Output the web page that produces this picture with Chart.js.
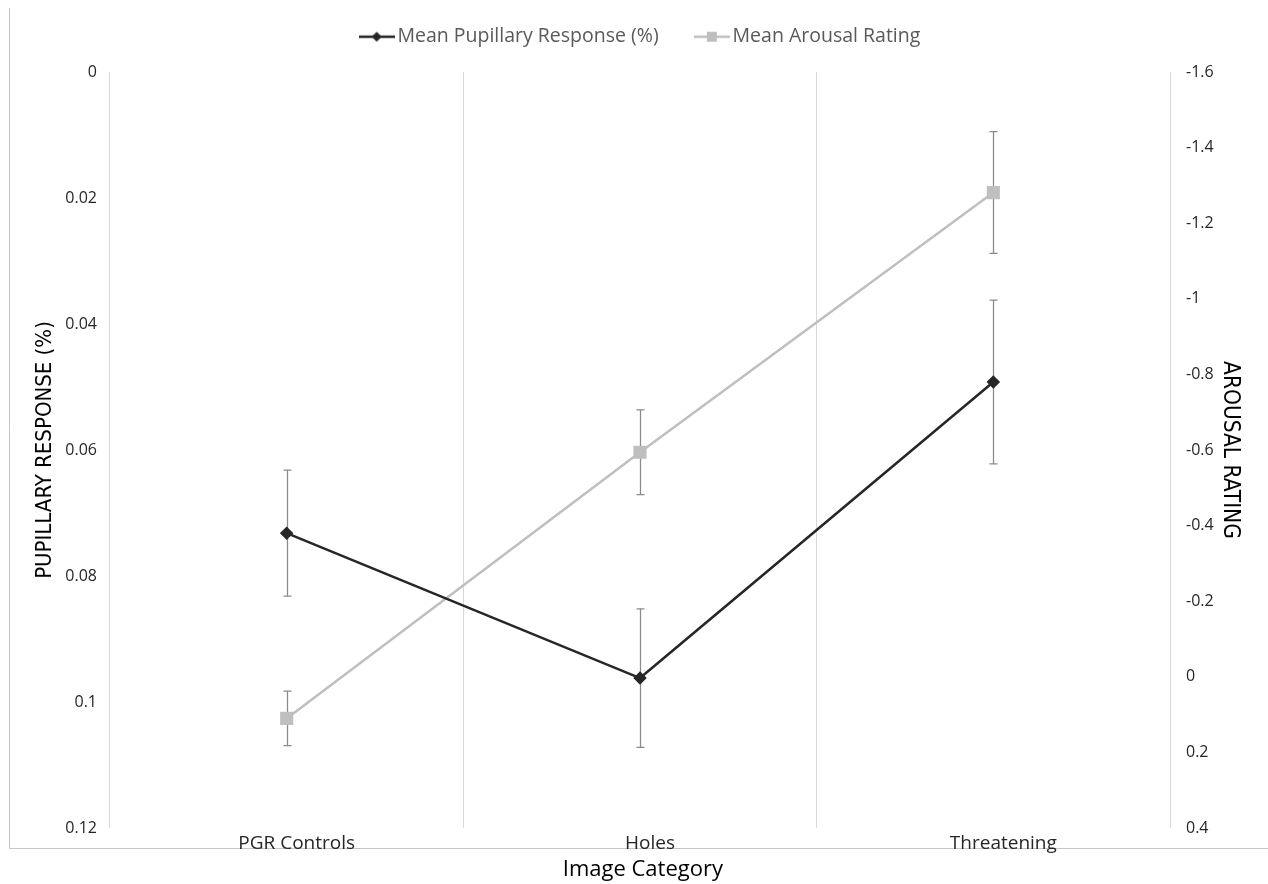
<!DOCTYPE html>
<html>
<head>
<meta charset="utf-8">
<script src="https://cdn.jsdelivr.net/npm/chart.js@4.4.1/dist/chart.umd.min.js"></script>
<style>
  html, body { margin: 0; padding: 0; background: #fff; }
  #wrap { width: 1268px; height: 884px; }
</style>
</head>
<body>
<div id="wrap"><canvas id="myChart" width="1268" height="884"></canvas></div>
<script>
// data
const categories = ['PGR Controls', 'Holes', 'Threatening'];
const pupilMean = [0.0732, 0.0962, 0.0492];
const pupilErr = [0.0100, 0.0110, 0.0130];
const arousalMean = [0.110, -0.594, -1.281];
const arousalErr = [0.072, 0.112, 0.161];

const leftTicks = [0, 0.02, 0.04, 0.06, 0.08, 0.1, 0.12];
const leftTickLabels = ['0', '0.02', '0.04', '0.06', '0.08', '0.1', '0.12'];
const rightTicks = [-1.6, -1.4, -1.2, -1, -0.8, -0.6, -0.4, -0.2, 0, 0.2, 0.4];
const rightTickLabels = ['-1.6', '-1.4', '-1.2', '-1', '-0.8', '-0.6', '-0.4', '-0.2', '0', '0.2', '0.4'];

const DARK = '#262626';
const LIGHT = '#bfbfbf';
const ERR = '#8a8a8a';
const FONT = "'Open Sans', 'DejaVu Sans', sans-serif";
const NARROW = "'DejaVu Sans Condensed', 'Liberation Sans Narrow', sans-serif";

// legend icons: short line with the marker in the middle
function legendIcon(color, shape) {
  const c = document.createElement('canvas');
  c.width = 36; c.height = 14;
  const g = c.getContext('2d');
  g.strokeStyle = color;
  g.lineWidth = 2.5;
  g.beginPath(); g.moveTo(0, 7); g.lineTo(36, 7); g.stroke();
  g.fillStyle = color;
  g.beginPath();
  if (shape === 'diamond') {
    g.moveTo(18, 2); g.lineTo(23, 7); g.lineTo(18, 12); g.lineTo(13, 7);
  } else {
    g.rect(13, 2, 10, 10);
  }
  g.closePath(); g.fill();
  return c;
}

// error bars drawn through the scales
const errorBars = {
  id: 'errorBars',
  beforeDatasetsDraw(chart) {
    const ctx = chart.ctx;
    const sets = [
      { mean: pupilMean, err: pupilErr, axis: 'y' },
      { mean: arousalMean, err: arousalErr, axis: 'y1' }
    ];
    ctx.save();
    ctx.strokeStyle = ERR;
    ctx.lineWidth = 1.25;
    sets.forEach(s => {
      const ys = chart.scales[s.axis];
      s.mean.forEach((m, i) => {
        const x = Math.round(chart.scales.x.getPixelForValue(i)) + 0.5;
        const y1 = ys.getPixelForValue(m - s.err[i]);
        const y2 = ys.getPixelForValue(m + s.err[i]);
        ctx.beginPath();
        ctx.moveTo(x, y1); ctx.lineTo(x, y2);
        ctx.moveTo(x - 4, y1); ctx.lineTo(x + 4, y1);
        ctx.moveTo(x - 4, y2); ctx.lineTo(x + 4, y2);
        ctx.stroke();
      });
    });
    ctx.restore();
  }
};

// thin frame on the left and bottom of the picture
const frame = {
  id: 'frame',
  beforeDraw(chart) {
    const ctx = chart.ctx;
    ctx.save();
    ctx.strokeStyle = '#c6c6c6';
    ctx.lineWidth = 1;
    ctx.beginPath();
    ctx.moveTo(9.5, 8); ctx.lineTo(9.5, 848.5); ctx.lineTo(1268, 848.5);
    ctx.stroke();
    ctx.restore();
  }
};

// extra room under the legend, and nudge it a bit to the right
const legendRoom = {
  id: 'legendRoom',
  afterInit(chart) {
    const lg = chart.legend;
    const fit = lg.fit;
    lg.fit = function () { fit.call(lg); lg.height += 15.5; };
  },
  afterLayout(chart) {
    chart.legend.left += 9;
    chart.legend.right += 9;
  }
};

const ctx = document.getElementById('myChart').getContext('2d');
const chart = new Chart(ctx, {
  type: 'line',
  data: {
    labels: categories,
    datasets: [
      {
        label: 'Mean Pupillary Response (%)',
        data: pupilMean,
        yAxisID: 'y',
        borderColor: DARK,
        backgroundColor: DARK,
        borderWidth: 2.5,
        pointStyle: 'rectRot',
        pointRadius: 5,
        tension: 0
      },
      {
        label: 'Mean Arousal Rating',
        data: arousalMean,
        yAxisID: 'y1',
        borderColor: LIGHT,
        backgroundColor: LIGHT,
        borderWidth: 2.5,
        pointStyle: 'rect',
        pointRadius: 7.5,
        tension: 0
      }
    ]
  },
  options: {
    responsive: false,
    animation: false,
    layout: { padding: 0 },
    plugins: {
      tooltip: { enabled: false },
      legend: {
        position: 'top',
        labels: {
          color: '#595959',
          font: { family: FONT, size: 19.5 },
          padding: 27,
          usePointStyle: true,
          pointStyleWidth: 22,
          generateLabels(chart) {
            return [
              { text: 'Mean Pupillary Response (%)   ', pointStyle: legendIcon(DARK, 'diamond'), fontColor: '#595959', lineWidth: 0, strokeStyle: 'transparent', fillStyle: DARK, datasetIndex: 0 },
              { text: 'Mean Arousal Rating', pointStyle: legendIcon(LIGHT, 'square'), fontColor: '#595959', lineWidth: 0, strokeStyle: 'transparent', fillStyle: LIGHT, datasetIndex: 1 }
            ];
          }
        }
      }
    },
    scales: {
      x: {
        type: 'category',
        offset: true,
        grid: { offset: true, color: '#d9d9d9', drawTicks: false, lineWidth: 1 },
        border: { display: false },
        ticks: { color: '#262626', font: { family: FONT, size: 19 }, padding: 4, maxRotation: 0, labelOffset: 10 },
        title: { display: true, text: ' Image Category', color: '#000', font: { family: FONT, size: 22 }, padding: { top: 0, bottom: 1 } },
        afterFit(s) { s.height = 56; }
      },
      y: {
        position: 'left',
        reverse: true,
        min: 0,
        max: 0.12,
        grid: { display: false, drawTicks: false },
        border: { display: false },
        afterBuildTicks(s) { s.ticks = leftTicks.map(v => ({ value: v })); },
        ticks: {
          color: '#262626',
          font: { family: FONT, size: 16 },
          padding: 13,
          callback: (v, i) => leftTickLabels[i]
        },
        title: { display: true, text: 'PUPILLARY RESPONSE (%)', color: '#000', font: { family: NARROW, size: 22 }, padding: { top: 32, bottom: 0 } },
        afterFit(s) { s.width = 110; }
      },
      y1: {
        position: 'right',
        reverse: true,
        min: -1.6,
        max: 0.4,
        grid: { display: false, drawTicks: false },
        border: { display: false },
        afterBuildTicks(s) { s.ticks = rightTicks.map(v => ({ value: v })); },
        ticks: {
          color: '#262626',
          font: { family: FONT, size: 16 },
          padding: 16,
          callback: (v, i) => rightTickLabels[i]
        },
        title: { display: true, text: 'AROUSAL RATING', color: '#000', font: { family: NARROW, size: 22.5 }, padding: { top: 25, bottom: 0 } },
        afterFit(s) { s.width = 98; }
      }
    }
  },
  plugins: [errorBars, frame, legendRoom]
});
</script>
</body>
</html>
